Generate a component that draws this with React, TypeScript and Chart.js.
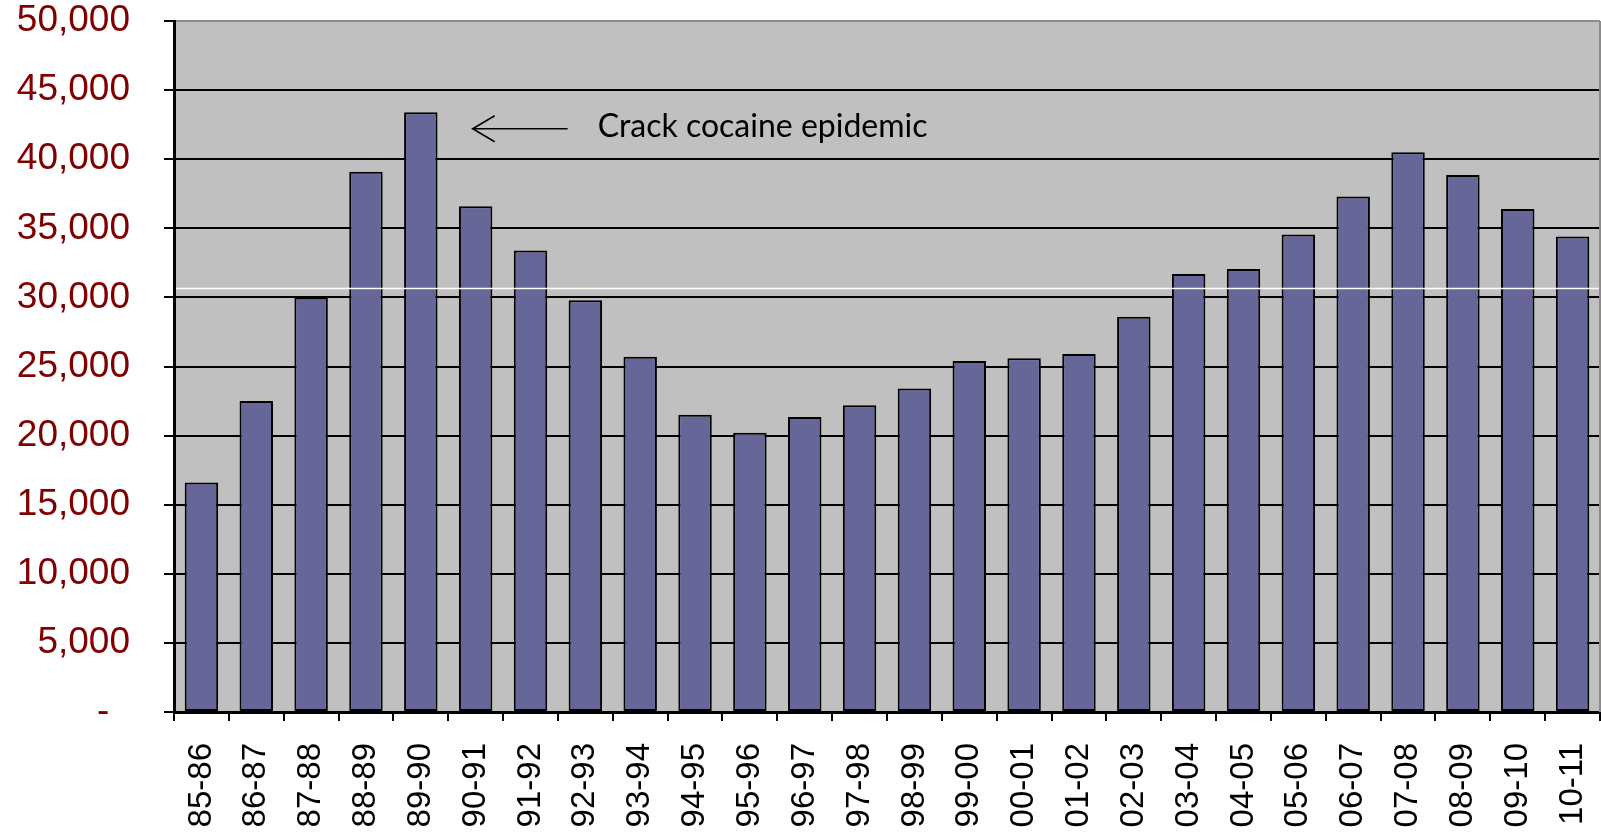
import { useEffect, useRef } from 'react';
import { Chart, registerables } from 'chart.js';

Chart.register(...registerables);

const categories = [
  '85-86', '86-87', '87-88', '88-89', '89-90', '90-91', '91-92', '92-93', '93-94',
  '94-95', '95-96', '96-97', '97-98', '98-99', '99-00', '00-01', '01-02', '02-03',
  '03-04', '04-05', '05-06', '06-07', '07-08', '08-09', '09-10', '10-11',
];
const arrests = [
  16600, 22500, 30000, 39100, 43400, 36600, 33400, 29800, 25700,
  21500, 20200, 21350, 22200, 23400, 25400, 25600, 25900, 28600,
  31700, 32050, 34550, 37300, 40500, 38850, 36400, 34400,
];
const yMin = 0;
const yMax = 50000;
const yStep = 5000;
const annotationText = 'Crack cocaine epidemic';
const annotationIndex = 5;
const annotationValue = 42200;
const artifactLineValue = 30700;

const plotPlugin = {
  id: 'plotDecor',
  beforeDraw(chart: any) {
    const { ctx, chartArea } = chart;
    ctx.save();
    ctx.fillStyle = '#C0C0C0';
    ctx.fillRect(chartArea.left, chartArea.top, chartArea.right - chartArea.left, chartArea.bottom - chartArea.top);
    ctx.restore();
  },
  afterDatasetsDraw(chart: any) {
    const { ctx, chartArea, scales } = chart;
    const x = scales.x;
    const y = scales.y;
    ctx.save();
    const wy = Math.round(y.getPixelForValue(artifactLineValue)) + 0.5;
    ctx.strokeStyle = '#FFFFFF';
    ctx.lineWidth = 1.5;
    ctx.beginPath();
    ctx.moveTo(chartArea.left + 2, wy);
    ctx.lineTo(chartArea.right, wy);
    ctx.stroke();
    ctx.strokeStyle = '#8C8C8C';
    ctx.lineWidth = 2;
    ctx.beginPath();
    ctx.moveTo(chartArea.right, chartArea.top);
    ctx.lineTo(chartArea.right, chartArea.bottom);
    ctx.stroke();
    const cx = x.getPixelForValue(annotationIndex);
    const ay = y.getPixelForValue(annotationValue);
    const tip = cx - 3;
    ctx.strokeStyle = '#000000';
    ctx.lineWidth = 1.6;
    ctx.beginPath();
    ctx.moveTo(tip + 95, ay);
    ctx.lineTo(tip, ay);
    ctx.moveTo(tip + 22, ay - 13);
    ctx.lineTo(tip, ay);
    ctx.lineTo(tip + 22, ay + 13);
    ctx.stroke();
    ctx.fillStyle = '#000000';
    ctx.font = '32px Lato, "Open Sans", sans-serif';
    ctx.textAlign = 'left';
    ctx.textBaseline = 'alphabetic';
    ctx.fillText(annotationText, tip + 125, ay + 8);
    ctx.restore();
  },
};

export default function App() {
  const canvasRef = useRef<HTMLCanvasElement | null>(null);

  useEffect(() => {
    if (!canvasRef.current) return;
    const chart = new Chart(canvasRef.current, {
      type: 'bar',
      data: {
        labels: categories,
        datasets: [
          {
            data: arrests,
            backgroundColor: '#666699',
            borderColor: '#000000',
            borderWidth: 2,
            borderSkipped: false,
            categoryPercentage: 1,
            barPercentage: 0.61,
          },
        ],
      },
      options: {
        animation: false,
        responsive: true,
        maintainAspectRatio: false,
        layout: { padding: { top: 21, right: 1, left: 0, bottom: 0 } },
        plugins: {
          legend: { display: false },
          tooltip: { enabled: false },
        },
        scales: {
          x: {
            offset: true,
            grid: {
              offset: true,
              drawOnChartArea: false,
              drawTicks: true,
              tickLength: 9,
              color: '#000000',
              lineWidth: 2,
            },
            border: { color: '#000000', width: 3 },
            ticks: {
              minRotation: 90,
              maxRotation: 90,
              autoSkip: false,
              padding: 22,
              color: '#000000',
              font: { family: '"Liberation Sans", Arial, sans-serif', size: 33 },
            },
            afterFit(scale: any) {
              scale.height = 121;
              scale.paddingLeft = 0;
              scale.paddingRight = 0;
            },
          },
          y: {
            min: yMin,
            max: yMax,
            grid: {
              color: (c: any) => (c.tick && c.tick.value === yMax ? '#8C8C8C' : '#000000'),
              tickColor: '#000000',
              lineWidth: 2,
              tickLength: 10,
            },
            border: { color: '#000000', width: 3 },
            ticks: {
              stepSize: yStep,
              padding: 34,
              color: '#800000',
              font: { family: '"Liberation Sans", Arial, sans-serif', size: 37 },
              callback: (v: any) => (Number(v) === 0 ? '-  ' : Number(v).toLocaleString('en-US')),
            },
            afterFit(scale: any) {
              scale.width = 174;
              scale.paddingTop = 0;
              scale.paddingBottom = 0;
            },
          },
        },
      },
      plugins: [plotPlugin],
    });
    return () => chart.destroy();
  }, []);

  return (
    <div style={{ position: 'fixed', left: 0, top: 0, width: 1601, height: 833, background: '#FFFFFF' }}>
      <canvas ref={canvasRef} />
    </div>
  );
}
